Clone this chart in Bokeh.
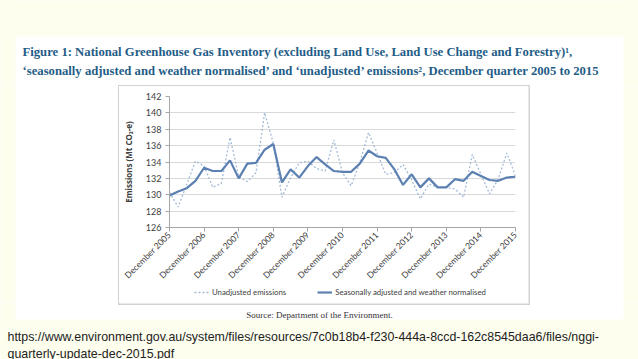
from bokeh.plotting import figure
from bokeh.layouts import column, row
from bokeh.models import (Range1d, FixedTicker, Label, BoxAnnotation, Legend, LegendItem)
from bokeh.embed import file_html
from bokeh.resources import INLINE

# ---------------- data ----------------
years = ["December 2005", "December 2006", "December 2007", "December 2008",
         "December 2009", "December 2010", "December 2011", "December 2012",
         "December 2013", "December 2014", "December 2015"]
quarter_index = list(range(41))
unadjusted = [130.3, 128.5, 131.3, 134.1, 133.5, 130.9, 131.4, 137.0, 132.2, 131.6,
              132.7, 140.0, 136.3, 129.7, 132.1, 133.9, 134.1, 133.2, 132.9, 136.7,
              132.7, 131.1, 133.9, 137.6, 135.1, 132.5, 132.7, 133.7, 131.8, 129.5,
              131.3, 130.9, 130.9, 130.7, 129.7, 134.9, 132.5, 130.1, 131.9, 135.1,
              132.3]
adjusted = [129.9, 130.4, 130.8, 131.7, 133.3, 132.9, 132.9, 134.2, 132.0, 133.8,
            133.9, 135.5, 136.2, 131.5, 133.1, 132.1, 133.5, 134.6, 133.7, 132.9,
            132.8, 132.8, 133.8, 135.4, 134.7, 134.5, 133.1, 131.2, 132.5, 130.9,
            132.0, 130.9, 130.9, 131.9, 131.7, 132.8, 132.3, 131.8, 131.7, 132.1,
            132.2]
year_ticks = [0, 4, 8, 12, 16, 20, 24, 28, 32, 36, 40]
y_ticks = [126, 128, 130, 132, 134, 136, 138, 140, 142]
series_names = ["Unadjusted emissions", "Seasonally adjusted and weather normalised"]

title_1 = "Figure 1: National Greenhouse Gas Inventory (excluding Land Use, Land Use Change and Forestry)¹,"
title_2 = "‘seasonally adjusted and weather normalised’ and ‘unadjusted’ emissions², December quarter 2005 to 2015"
source_text = "Source: Department of the Environment."
url_1 = "https://www.environment.gov.au/system/files/resources/7c0b18b4-f230-444a-8ccd-162c8545daa6/files/nggi-"
url_2 = "quarterly-update-dec-2015.pdf"

# ---------------- layout constants (page pixels) ----------------
PW, PH = 638, 359
CREAM = "#FEFEEF"
GREY = "#a6a6a6"
TITLE_COLOR = "#1f5d87"
UN_COLOR, ADJ_COLOR = "#a3bbd8", "#5b80b1"
BAND_L, BAND_R, BAND_T, BAND_B = 15, 623, 36, 319     # white slide image band
BOX_L, BOX_R, BOX_T, BOX_B = 118, 529, 85, 304        # chart box edges
ROW_T, ROW_B = BOX_T + 1, BOX_B - 1                   # middle row
CH_L, CH_R = BOX_L + 1, BOX_R - 1                     # chart column
FL, FR, FT, FB = 163, 515, 96, 229                    # plot frame
LEG_T = 286                                           # legend strip top


def box(f, l, r, t, b, color):
    f.add_layout(BoxAnnotation(left=l, right=r, top=t, bottom=b, fill_color=color,
                               fill_alpha=1, line_color=None))


def panel(x0, x1, y0, y1):
    """Decoration panel in page-pixel coordinates (y downwards)."""
    f = figure(width=x1 - x0, height=y1 - y0, output_backend="svg",
               toolbar_location=None, x_range=Range1d(x0, x1),
               y_range=Range1d(y1, y0), x_axis_type=None, y_axis_type=None,
               min_border=0)
    f.background_fill_color = "white"
    f.border_fill_color = "white"
    f.outline_line_color = None
    f.grid.visible = False
    # cream slide background outside the white image band
    box(f, -10, PW + 10, -10, BAND_T, CREAM)
    box(f, -10, PW + 10, BAND_B, PH + 10, CREAM)
    box(f, -10, BAND_L, -10, PH + 10, CREAM)
    box(f, BAND_R, PW + 10, -10, PH + 10, CREAM)
    # chart box edges
    box(f, BOX_L, BOX_R, BOX_T, BOX_T + 1, GREY)
    box(f, BOX_L, BOX_R, BOX_B - 1, BOX_B, GREY)
    box(f, BOX_L, BOX_L + 1, BOX_T, BOX_B, GREY)
    box(f, BOX_R - 1, BOX_R, BOX_T, BOX_B, GREY)
    return f


# ---- top (titles) ----
top = panel(0, PW, 0, ROW_T)
for txt, yb in ((title_1, 51), (title_2, 70)):
    top.add_layout(Label(x=22, y=yb, text=txt, text_font="Liberation Serif",
                         text_font_style="bold", text_font_size="12.7px",
                         text_color=TITLE_COLOR, text_baseline="alphabetic"))

# ---- side fillers ----
left = panel(0, CH_L, ROW_T, ROW_B)
right = panel(CH_R, PW, ROW_T, ROW_B)

# ---- chart ----
p = figure(width=CH_R - CH_L, height=LEG_T - ROW_T, output_backend="svg",
           toolbar_location=None, x_range=Range1d(0, 40), y_range=Range1d(126, 142),
           min_border_left=FL - CH_L, min_border_right=CH_R - FR,
           min_border_top=FT - ROW_T, min_border_bottom=LEG_T - FB)
p.background_fill_color = "white"
p.border_fill_color = "white"
p.outline_line_color = None

p.xaxis.ticker = FixedTicker(ticks=year_ticks)
p.xaxis.major_label_overrides = {t: lab for t, lab in zip(year_ticks, years)}
p.xaxis.major_label_orientation = 0.785398
p.xaxis.major_label_text_font = "Lato"
p.xaxis.major_label_text_font_size = "8.6px"
p.xaxis.major_label_text_color = "#404040"
p.xaxis.axis_line_color = GREY
p.xaxis.major_tick_line_color = GREY
p.xaxis.major_tick_out = 4
p.xaxis.major_tick_in = 0
p.xaxis.minor_tick_line_color = None
p.xaxis.major_label_standoff = 2

p.yaxis.ticker = FixedTicker(ticks=y_ticks)
p.yaxis.major_label_text_font = "Lato"
p.yaxis.major_label_text_font_size = "9px"
p.yaxis.major_label_text_color = "#404040"
p.yaxis.axis_line_color = GREY
p.yaxis.major_tick_line_color = GREY
p.yaxis.major_tick_out = 4
p.yaxis.major_tick_in = 0
p.yaxis.minor_tick_line_color = None
p.yaxis.major_label_standoff = 4
p.yaxis.axis_label = "Emissions (Mt CO₂-e)"
p.yaxis.axis_label_text_font = "Noto Sans"
p.yaxis.axis_label_text_font_size = "8px"
p.yaxis.axis_label_text_font_style = "bold"
p.yaxis.axis_label_text_color = "#404040"
p.yaxis.axis_label_standoff = 9

p.xgrid.visible = False
p.ygrid.grid_line_color = "#d9d9d9"
p.ygrid.grid_line_width = 1

p.line(quarter_index, unadjusted, line_color=UN_COLOR, line_width=1.3, line_dash="2 2")
p.line(quarter_index, adjusted, line_color=ADJ_COLOR, line_width=2.2)

# ---- legend strip (inside the chart box, below the axis) ----
# its frame is aligned with the chart frame by the column layout
strip = figure(width=CH_R - CH_L, height=ROW_B - LEG_T, output_backend="svg",
               toolbar_location=None, x_range=Range1d(1000, 1001),
               y_range=Range1d(1000, 1001), x_axis_type=None, y_axis_type=None,
               min_border=0)
strip.background_fill_color = "white"
strip.border_fill_color = "white"
strip.outline_line_color = None
strip.grid.visible = False
k_un = strip.line(quarter_index, unadjusted, line_color=UN_COLOR, line_width=1.3,
                  line_dash="2 2")
k_adj = strip.line(quarter_index, adjusted, line_color=ADJ_COLOR, line_width=2.2)
legend = Legend(items=[LegendItem(label=series_names[0], renderers=[k_un]),
                       LegendItem(label=series_names[1], renderers=[k_adj])],
                orientation="horizontal", location=(188 - FL, ROW_B - 297),
                spacing=31, glyph_width=15, glyph_height=10, label_standoff=3,
                padding=0, margin=0, border_line_color=None,
                background_fill_alpha=0, label_text_font="Lato",
                label_text_font_size="7.8px", label_text_color="#404040",
                label_height=10)
strip.add_layout(legend)

# ---- bottom (source + url) ----
bottom = panel(0, PW, ROW_B, PH)
bottom.add_layout(Label(x=319, y=314, text=source_text, text_font="Liberation Serif",
                        text_font_size="9px", text_color="#333333",
                        text_align="center", text_baseline="middle"))
for txt, yb in ((url_1, 336), (url_2, 353)):
    bottom.add_layout(Label(x=7, y=yb, text=txt, text_font="Liberation Sans",
                            text_font_size="12.4px", text_color="#222222",
                            text_baseline="alphabetic"))

layout = column(top, row(left, column(p, strip, spacing=0), right, spacing=0),
                bottom, spacing=0)
open("out.html", "w").write(file_html(layout, INLINE))
